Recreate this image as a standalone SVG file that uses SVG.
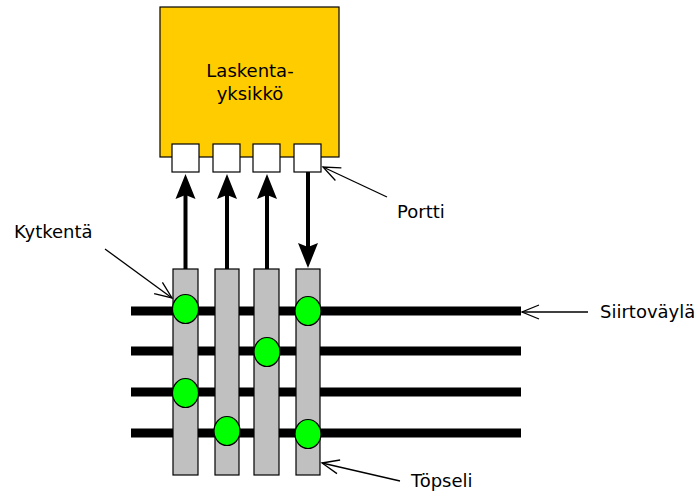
<svg xmlns="http://www.w3.org/2000/svg" width="698" height="493" viewBox="0 0 698 493">
<style>
text { font-family: "DejaVu Sans", "Liberation Sans", sans-serif; font-size: 18px; fill: #000; }
.bus { stroke: #000; stroke-width: 9; fill: none; }
.bar { fill: #C0C0C0; stroke: #000; stroke-width: 1.2; }
.port { fill: #fff; stroke: #000; stroke-width: 1.2; }
.sw { fill: #00FF00; stroke: #000; stroke-width: 1.2; }
.thick { stroke: #000; stroke-width: 4; fill: none; }
.ptr { stroke: #000; stroke-width: 1.3; fill: none; }
</style>
<defs>
<marker id="big" viewBox="-6 -12 27 24" refX="0" refY="0" markerWidth="27" markerHeight="24" markerUnits="userSpaceOnUse" orient="auto">
<path d="M21,0 L-4,-10 L0,0 L-4,10 Z" fill="#000"/>
</marker>
<marker id="open" viewBox="-19 -9 21 18" refX="0" refY="0" markerWidth="21" markerHeight="18" markerUnits="userSpaceOnUse" orient="auto">
<path d="M-17,-7 L0,0 L-17,7" fill="none" stroke="#000" stroke-width="1.3"/>
</marker>
</defs>

<g id="buses">
<line class="bus" x1="131" y1="311" x2="521" y2="311"/>
<line class="bus" x1="131" y1="351" x2="521" y2="351"/>
<line class="bus" x1="131" y1="392" x2="521" y2="392"/>
<line class="bus" x1="131" y1="433" x2="521" y2="433"/>
</g>

<g id="laskentayksikko">
<rect x="160" y="7" width="179" height="150" fill="#FFCC00" stroke="#000" stroke-width="1.2"/>
<text x="250" y="77" text-anchor="middle">Laskenta-</text>
<text x="250" y="100" text-anchor="middle">yksikkö</text>
</g>

<g id="ports">
<rect class="port" x="172" y="144" width="27" height="28"/>
<rect class="port" x="213" y="144" width="27" height="28"/>
<rect class="port" x="253" y="144" width="27" height="28"/>
<rect class="port" x="294" y="144" width="27" height="28"/>
</g>

<g id="topselit">
<rect class="bar" x="173" y="269" width="25" height="206"/>
<rect class="bar" x="215" y="269" width="24" height="206"/>
<rect class="bar" x="254" y="269" width="25" height="206"/>
<rect class="bar" x="296" y="269" width="24" height="206"/>
</g>

<g id="kytkennat">
<ellipse class="sw" cx="185.5" cy="309" rx="13" ry="14.5"/>
<ellipse class="sw" cx="308" cy="311" rx="13" ry="14.5"/>
<ellipse class="sw" cx="267" cy="352" rx="13" ry="14.5"/>
<ellipse class="sw" cx="185.5" cy="393" rx="13" ry="14.5"/>
<ellipse class="sw" cx="227" cy="431" rx="13" ry="14.5"/>
<ellipse class="sw" cx="308" cy="434" rx="13" ry="14.5"/>
</g>

<g id="connectors">
<line class="thick" x1="185.5" y1="269" x2="185.5" y2="195" marker-end="url(#big)"/>
<line class="thick" x1="227" y1="269" x2="227" y2="195" marker-end="url(#big)"/>
<line class="thick" x1="267" y1="269" x2="267" y2="195" marker-end="url(#big)"/>
<line class="thick" x1="308" y1="172" x2="308" y2="247" marker-end="url(#big)"/>
<line class="ptr" x1="105" y1="249" x2="172" y2="298" marker-end="url(#open)"/>
<line class="ptr" x1="387" y1="197" x2="323" y2="167" marker-end="url(#open)"/>
<line class="ptr" x1="588" y1="312" x2="522" y2="312" marker-end="url(#open)"/>
<line class="ptr" x1="400" y1="481" x2="322" y2="463" marker-end="url(#open)"/>
</g>

<g id="labels">
<text x="14" y="238">Kytkentä</text>
<text x="397" y="218">Portti</text>
<text x="600" y="318">Siirtoväylä</text>
<text x="411" y="487">Töpseli</text>
</g>
</svg>
